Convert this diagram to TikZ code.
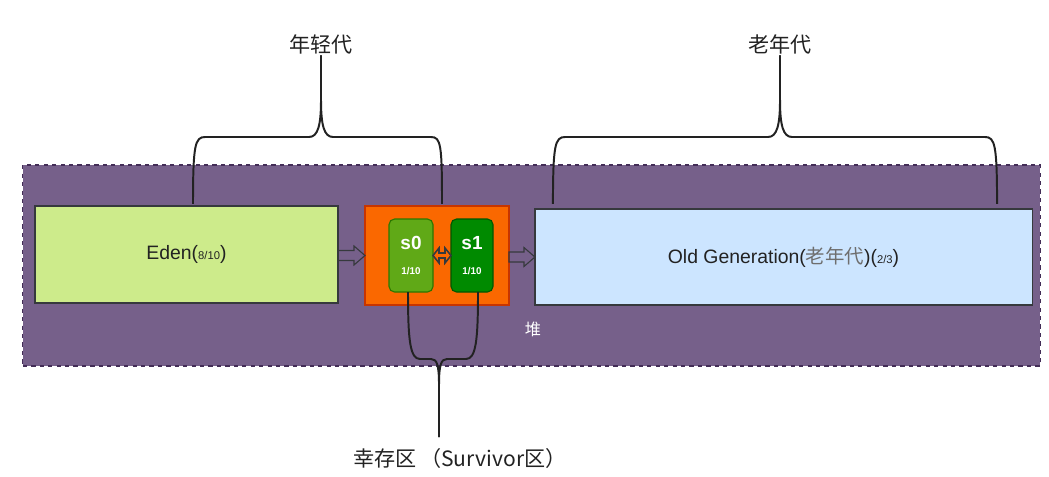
\documentclass[tikz,border=0pt]{standalone}
\usepackage{fontspec}
\setmainfont{Liberation Sans}
\newfontfamily\cjk{Noto Sans CJK SC}
\usetikzlibrary{calc}
\definecolor{heapfill}{HTML}{76608A}
\definecolor{heapedge}{HTML}{432D57}
\definecolor{edenfill}{HTML}{CDEB8B}
\definecolor{boxedge}{HTML}{36393D}
\definecolor{survfill}{HTML}{FA6800}
\definecolor{survedge}{HTML}{C73500}
\definecolor{szerofill}{HTML}{60A917}
\definecolor{szeroedge}{HTML}{2D7600}
\definecolor{sonefill}{HTML}{008A00}
\definecolor{soneedge}{HTML}{005700}
\definecolor{oldfill}{HTML}{CCE5FF}
\definecolor{inkgrey}{HTML}{222222}
\definecolor{cjkgrey}{HTML}{6E6E6E}
\tikzset{box/.style={draw=boxedge,line width=0.8pt,inner sep=0pt,outer sep=0pt,
 font=\fontsize{13.8}{16}\selectfont,text=inkgrey,align=center},
 space/.style={box,rounded corners=4pt,text=white,font=\bfseries\fontsize{13.5}{15}\selectfont},
 brace/.style={draw=inkgrey,line width=1.4pt,line join=round},
 hollow/.style={draw=boxedge,line width=0.8pt,line join=miter},
 lbl/.style={font=\cjk\fontsize{15}{17}\selectfont,text=inkgrey,inner sep=1pt}}
\begin{document}
\begin{tikzpicture}[x=0.025cm,y=-0.025cm]
\useasboundingbox (0,0) rectangle (1049,476);
\node[draw=heapedge,fill=heapfill,dashed,line width=0.8pt,minimum width=25.425cm,minimum height=5.025cm,inner sep=0pt] (heap) at (531.5,265.5) {};
\node[box,fill=edenfill,minimum width=7.575cm,minimum height=2.425cm] (eden) at (186.5,254.5) {Eden({\fontsize{8}{9}\selectfont 8/10})};
\node[box,draw=survedge,fill=survfill,minimum width=3.6cm,minimum height=2.475cm] (surv) at (437,255.5) {};
\node[space,draw=szeroedge,fill=szerofill,minimum width=1.1cm,minimum height=1.825cm] (s0) at (411,255.5) {s0\\[3pt]{\fontsize{7}{8}\selectfont 1/10}};
\node[space,draw=soneedge,fill=sonefill,minimum width=1.05cm,minimum height=1.825cm] (s1) at (472,255.5) {s1\\[3pt]{\fontsize{7}{8}\selectfont 1/10}};
\node[box,fill=oldfill,minimum width=12.425cm,minimum height=2.4cm] (old) at (783.5,257) {Old Generation({\cjk\color{cjkgrey}老年代})({\fontsize{8}{9}\selectfont 2/3})};
\node[lbl,text=white,font=\cjk\fontsize{11.5}{13}\selectfont] (heaplbl) at (533,329) {堆};
\node[lbl] (young) at (321,44) {年轻代};
\node[lbl] (oldlbl) at (780,44) {老年代};
\node[lbl] (survlbl) at (460,458) {幸存区\,（Survivor区）};
\draw[hollow] ($(eden.east|-surv.west)+(0,-5)$) -- ($(surv.west)+(-11,-5)$) -- ($(surv.west)+(-11,-9.5)$) -- (surv.west) -- ($(surv.west)+(-11,9.5)$) -- ($(surv.west)+(-11,5)$) -- ($(eden.east|-surv.west)+(0,5)$) -- cycle;
\draw[hollow] ($(surv.east|-old.west)+(0,-5)$) -- ($(old.west)+(-11,-5)$) -- ($(old.west)+(-11,-9.5)$) -- (old.west) -- ($(old.west)+(-11,9.5)$) -- ($(old.west)+(-11,5)$) -- ($(surv.east|-old.west)+(0,5)$) -- cycle;
\draw[hollow,line width=1.1pt] (s0.east) -- ($(s0.east)+(6,-7.5)$) -- ($(s0.east)+(6,-2.5)$) -- ($(s1.west)+(-6,-2.5)$) -- ($(s1.west)+(-6,-7.5)$) -- (s1.west) -- ($(s1.west)+(-6,7.5)$) -- ($(s1.west)+(-6,2.5)$) -- ($(s0.east)+(6,2.5)$) -- ($(s0.east)+(6,7.5)$) -- cycle;
\draw[brace] ($(eden.north)+(6.5,-2)$) .. controls (193,145) and (195,137) .. (205,137) -- (309,137) .. controls (318,137) and (321,125) .. (321,100) -- (young.south);
\draw[brace] ($(surv.north)+(5,-2)$) .. controls (442,145) and (441,137) .. (431,137) -- (333,137) .. controls (324,137) and (321,125) .. (321,100) -- (young.south);
\draw[brace] ($(old.north west)+(18,-5)$) .. controls (553,145) and (555,137) .. (565,137) -- (768,137) .. controls (777,137) and (780,125) .. (780,100) -- (oldlbl.south);
\draw[brace] ($(old.north east)+(-35,-5)$) .. controls (997,145) and (995,137) .. (985,137) -- (792,137) .. controls (783,137) and (780,125) .. (780,100) -- (oldlbl.south);
\draw[brace] ($(s0.south)+(-3,0)$) .. controls (408,340) and (410,359) .. (420,359) -- (431,359) .. controls (437,359) and (439,365) .. (439,385) -- (439,437);
\draw[brace] ($(s1.south)+(6,0)$) .. controls (478,340) and (476,359) .. (466,359) -- (447,359) .. controls (441,359) and (439,365) .. (439,385) -- (439,437);
\end{tikzpicture}
\end{document}
